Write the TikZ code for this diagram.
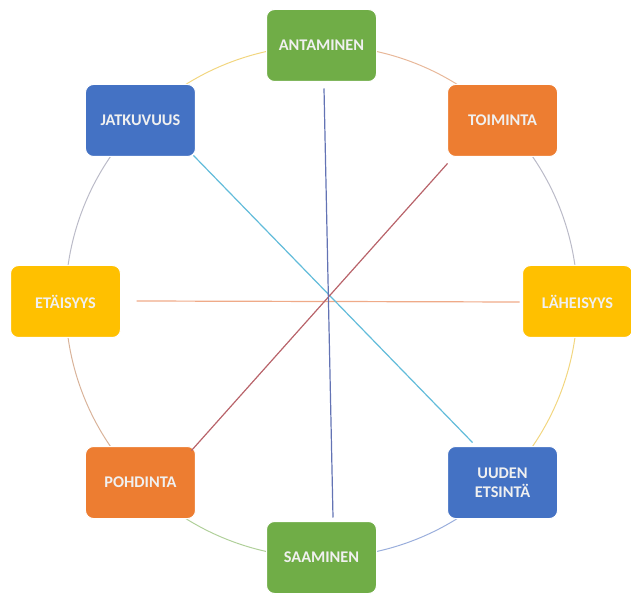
\documentclass[tikz,border=0pt]{standalone}
\usepackage{fontspec}
\setmainfont{Carlito}
\begin{document}
\begin{tikzpicture}[x=1pt,y=1pt,
  box/.style={draw=white, line width=1pt, rounded corners=8pt, minimum width=110pt, minimum height=72pt,
    inner sep=0pt, text=white!94!black, align=center, font=\fontsize{16.3}{19}\selectfont\bfseries},
  gbox/.style={box, fill=boxgreen},
  obox/.style={box, fill=boxorange},
  bbox/.style={box, fill=boxblue},
  ybox/.style={box, fill=boxyellow},
  ring/.style={line width=1pt},
  spoke/.style={line width=1.2pt}
]
\definecolor{boxgreen}{HTML}{70AD47}
\definecolor{boxorange}{HTML}{ED7D31}
\definecolor{boxblue}{HTML}{4472C4}
\definecolor{boxyellow}{HTML}{FFC000}
\definecolor{arcorange}{HTML}{E8B89A}
\definecolor{arcgray}{HTML}{BBBBC8}
\definecolor{arcyellow}{HTML}{F2D680}
\definecolor{arcblue}{HTML}{9AAEDC}
\definecolor{arcgreen}{HTML}{B0D09A}
\definecolor{arcbrown}{HTML}{D9B39A}
\definecolor{linevert}{HTML}{6373B4}
\definecolor{linecyan}{HTML}{62BCDA}
\definecolor{linered}{HTML}{B8636A}
\definecolor{linehor}{HTML}{EFAA88}

\useasboundingbox (0,0) rectangle (631,594);
\coordinate (c) at (321.5,292.5);

% ring arcs
\draw[ring, arcorange] ([shift={(90:256)}]c) arc[start angle=90, end angle=45, radius=256];
\draw[ring, arcgray]   ([shift={(45:256)}]c) arc[start angle=45, end angle=0, radius=256];
\draw[ring, arcyellow] ([shift={(0:256)}]c) arc[start angle=0, end angle=-45, radius=256];
\draw[ring, arcblue]   ([shift={(-45:256)}]c) arc[start angle=-45, end angle=-90, radius=256];
\draw[ring, arcgreen]  ([shift={(-90:256)}]c) arc[start angle=-90, end angle=-135, radius=256];
\draw[ring, arcbrown]  ([shift={(-135:256)}]c) arc[start angle=-135, end angle=-180, radius=256];
\draw[ring, arcgray]   ([shift={(180:256)}]c) arc[start angle=180, end angle=135, radius=256];
\draw[ring, arcyellow] ([shift={(135:256)}]c) arc[start angle=135, end angle=90, radius=256];

% boxes
\node[gbox] (ant) at ([shift={(90:256)}]c) {ANTAMINEN};
\node[obox] (toi) at ([shift={(45:256)}]c) {TOIMINTA};
\node[ybox] (lah) at ([shift={(0:256)}]c) {LÄHEISYYS};
\node[bbox] (uud) at ([shift={(-45:256)}]c) {UUDEN\\ETSINTÄ};
\node[gbox] (saa) at ([shift={(-90:256)}]c) {SAAMINEN};
\node[obox] (poh) at ([shift={(-135:256)}]c) {POHDINTA};
\node[ybox] (eta) at ([shift={(180:256)}]c) {ETÄISYYS};
\node[bbox] (jat) at ([shift={(135:256)}]c) {JATKUVUUS};

% spokes
\draw[spoke, linehor]  ([shift={(15.5,0.5)}]eta.east) -- ([shift={(-2.5,-0.5)}]lah.west);
\draw[spoke, linecyan] ([shift={(-2.5,1.5)}]jat.south east) -- ([shift={(25.5,3.5)}]uud.north west);
\draw[spoke, linered]  ([shift={(0.5,-6.5)}]toi.south west) -- ([shift={(-4.5,-4.5)}]poh.north east);
\draw[spoke, linevert] ([shift={(2.5,-6.5)}]ant.south) -- ([shift={(11.5,3.5)}]saa.north);
\end{tikzpicture}
\end{document}
